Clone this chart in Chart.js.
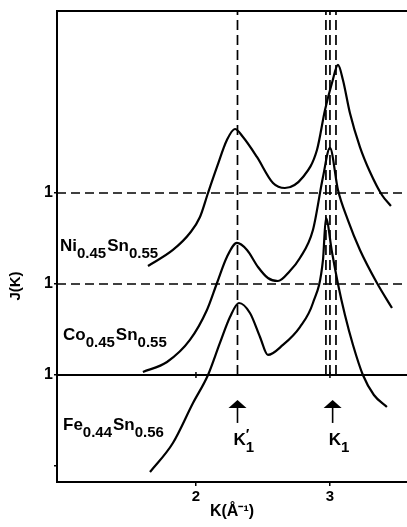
<!DOCTYPE html>
<html>
<head>
<meta charset="utf-8">
<script src="https://cdn.jsdelivr.net/npm/chart.js@4.4.1/dist/chart.umd.min.js"></script>
<style>
  html, body { margin: 0; padding: 0; background: #fff; }
</style>
</head>
<body>
<canvas id="jk-chart" width="407" height="527"></canvas>
<script>
// axis ranges and ticks
const kMin = 0.963, kMax = 3.575;
const jMin = -0.176, jMax = 5.0;
const xTicks = [2, 3];
const yTicks = [0, 1, 2, 3];
const yTickLabels = ['', '1', '1', '1'];

// J(K) curves, each read relative to its own baseline (J = 1), stacked by offset
const niK = [1.642, 1.828, 1.955, 2.030, 2.090, 2.157, 2.231, 2.291, 2.351, 2.455, 2.575, 2.664, 2.799, 2.903, 2.963, 3.015, 3.060, 3.097, 3.149, 3.224, 3.299, 3.388, 3.455];
const niJ = [0.198, 0.374, 0.560, 0.736, 1.000, 1.286, 1.582, 1.703, 1.615, 1.396, 1.110, 1.055, 1.176, 1.473, 1.912, 2.209, 2.407, 2.242, 1.879, 1.505, 1.231, 0.978, 0.857];
const niOffset = 2;

const coK = [1.604, 1.784, 1.955, 2.082, 2.157, 2.231, 2.306, 2.381, 2.463, 2.537, 2.612, 2.701, 2.776, 2.873, 2.948, 3.000, 3.060, 3.134, 3.224, 3.351, 3.463];
const coJ = [0.033, 0.143, 0.385, 0.714, 1.011, 1.297, 1.451, 1.374, 1.187, 1.066, 1.033, 1.143, 1.286, 1.593, 2.176, 2.495, 2.033, 1.703, 1.374, 1.011, 0.736];
const coOffset = 1;

const feK = [1.657, 1.828, 1.978, 2.090, 2.179, 2.254, 2.321, 2.403, 2.478, 2.537, 2.649, 2.776, 2.873, 2.948, 2.970, 3.015, 3.060, 3.112, 3.172, 3.246, 3.328, 3.425];
const feJ = [-0.066, 0.253, 0.692, 1.000, 1.352, 1.637, 1.791, 1.681, 1.418, 1.220, 1.330, 1.527, 1.791, 2.264, 2.725, 2.352, 2.000, 1.659, 1.330, 1.000, 0.780, 0.648];
const feOffset = 0;

// baselines (Ni, Co dashed; Fe solid) and peak markers
const dashedLevels = [3, 2];
const solidLevel = 1;
const peakMarks = [2.31, 2.97, 3.0, 3.045];

// arrows under the peaks
const arrowK = [2.31, 3.02];
const arrowPrime = [true, false];
const arrowTip = 0.725, arrowHead = 0.637, arrowTail = 0.473, arrowLabelY = 0.231;

// sample labels
const sampleNames = [
  [['Ni', '0.45'], ['Sn', '0.55']],
  [['Co', '0.45'], ['Sn', '0.55']],
  [['Fe', '0.44'], ['Sn', '0.56']]
];

const FONT = '"Liberation Sans", Arial, sans-serif';

function toPoints(ks, js, off) {
  return ks.map((k, i) => ({ x: k, y: js[i] + off }));
}

const curveStyle = {
  borderColor: '#000',
  borderWidth: 2.2,
  pointRadius: 0,
  fill: false,
  cubicInterpolationMode: 'monotone'
};

const datasets = [
  { ...curveStyle, data: toPoints(niK, niJ, niOffset) },
  { ...curveStyle, data: toPoints(coK, coJ, coOffset) },
  { ...curveStyle, data: toPoints(feK, feJ, feOffset) }
];

dashedLevels.forEach(lv => {
  datasets.push({
    data: [{ x: kMin, y: lv }, { x: kMax, y: lv }],
    borderColor: '#000', borderWidth: 1.7, borderDash: [9, 5], pointRadius: 0
  });
});
datasets.push({
  data: [{ x: kMin, y: solidLevel }, { x: kMax, y: solidLevel }],
  borderColor: '#000', borderWidth: 2, pointRadius: 0
});
peakMarks.forEach(k => {
  datasets.push({
    data: [{ x: k, y: solidLevel }, { x: k, y: jMax }],
    borderColor: '#000', borderWidth: 1.7, borderDash: [10, 5], pointRadius: 0
  });
});

const decorPlugin = {
  id: 'decor',
  afterDraw(chart) {
    const { ctx, chartArea, scales } = chart;
    const xs = scales.x, ys = scales.y;
    ctx.save();
    ctx.strokeStyle = '#000';
    ctx.fillStyle = '#000';

    // top frame line
    ctx.lineWidth = 2;
    ctx.beginPath();
    ctx.moveTo(chartArea.left, chartArea.top);
    ctx.lineTo(chartArea.right, chartArea.top);
    ctx.stroke();

    // small ticks on the solid baseline
    ctx.lineWidth = 1.5;
    xTicks.forEach(k => {
      const px = xs.getPixelForValue(k), py = ys.getPixelForValue(solidLevel);
      ctx.beginPath();
      ctx.moveTo(px, py - 3);
      ctx.lineTo(px, py + 3);
      ctx.stroke();
    });

    // sample names with subscripts
    const anchors = [[60, 3.0 - 0.64], [63, 2.0 - 0.62], [63, 1.0 - 0.60]];
    sampleNames.forEach((parts, i) => {
      let x = anchors[i][0];
      const y = ys.getPixelForValue(anchors[i][1]);
      parts.forEach(([el, sub]) => {
        ctx.font = 'bold 17px ' + FONT;
        ctx.fillText(el, x, y);
        x += ctx.measureText(el).width;
        ctx.font = 'bold 15px ' + FONT;
        ctx.fillText(sub, x, y + 7);
        x += ctx.measureText(sub).width + 1;
      });
    });

    // arrows and K labels
    arrowK.forEach((k, i) => {
      const px = xs.getPixelForValue(k);
      const tip = ys.getPixelForValue(arrowTip);
      const head = ys.getPixelForValue(arrowHead);
      const tail = ys.getPixelForValue(arrowTail);
      ctx.beginPath();
      ctx.moveTo(px, tip);
      ctx.lineTo(px - 9, head);
      ctx.lineTo(px + 9, head);
      ctx.closePath();
      ctx.fill();
      ctx.lineWidth = 1.6;
      ctx.beginPath();
      ctx.moveTo(px, head);
      ctx.lineTo(px, tail);
      ctx.stroke();

      const ly = ys.getPixelForValue(arrowLabelY);
      let lx = px - 4;
      ctx.font = 'bold 17px ' + FONT;
      ctx.fillText('K', lx, ly);
      lx += ctx.measureText('K').width;
      ctx.font = 'bold 15px ' + FONT;
      if (arrowPrime[i]) {
        ctx.fillText('′', lx, ly - 6);
      }
      ctx.fillText('1', lx, ly + 7);
    });

    // y axis title
    ctx.font = 'bold 15px ' + FONT;
    ctx.textAlign = 'center';
    ctx.textBaseline = 'middle';
    ctx.translate(16, 286);
    ctx.rotate(-Math.PI / 2);
    ctx.fillText('J(K)', 0, 0);
    ctx.restore();
  }
};

new Chart(document.getElementById('jk-chart').getContext('2d'), {
  type: 'line',
  data: { datasets },
  options: {
    responsive: false,
    animation: false,
    layout: { padding: { top: 11, right: 0, left: 0, bottom: 0 } },
    plugins: { legend: { display: false }, tooltip: { enabled: false } },
    scales: {
      x: {
        type: 'linear',
        min: kMin,
        max: kMax,
        afterBuildTicks: s => { s.ticks = xTicks.map(v => ({ value: v })); },
        afterFit: s => { s.height = 45; },
        grid: { drawOnChartArea: false, tickLength: 4, color: '#000', lineWidth: 1.5 },
        border: { display: true, color: '#000', width: 2 },
        ticks: { color: '#000', padding: 2, font: { family: FONT, size: 15, weight: 'bold' } },
        title: {
          display: true,
          text: 'K(Å⁻¹)',
          color: '#000',
          padding: { top: 0, bottom: 6 },
          font: { family: FONT, size: 16, weight: 'bold' }
        }
      },
      y: {
        type: 'linear',
        min: jMin,
        max: jMax,
        afterBuildTicks: s => { s.ticks = yTicks.map(v => ({ value: v })); },
        afterFit: s => { s.width = 57; },
        grid: { drawOnChartArea: false, tickLength: 3, color: '#000', lineWidth: 1.5 },
        border: { display: true, color: '#000', width: 2 },
        ticks: {
          color: '#000',
          padding: 1,
          font: { family: FONT, size: 16, weight: 'bold' },
          callback: (v, i) => yTickLabels[i]
        }
      }
    }
  },
  plugins: [decorPlugin]
});
</script>
</body>
</html>
